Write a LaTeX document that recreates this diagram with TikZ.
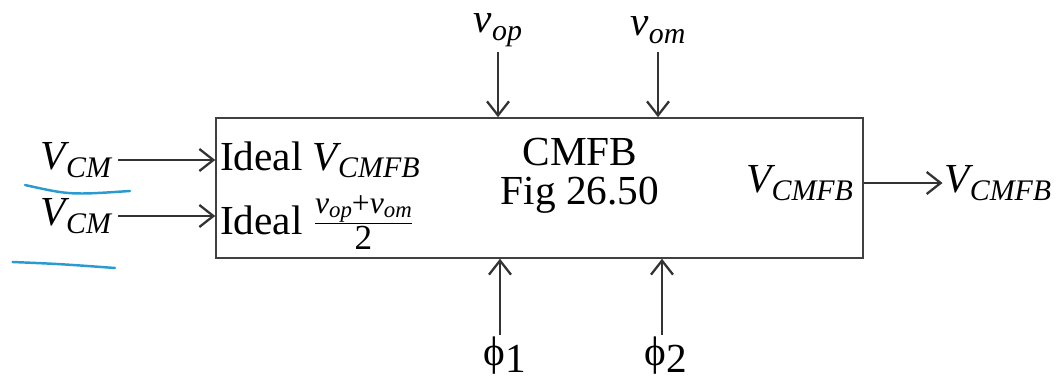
\documentclass[tikz,border=0pt]{standalone}
\usepackage{amsmath}
\usepackage{fontspec}
\setmainfont{Liberation Serif}
\usepackage{tikz}
\usetikzlibrary{arrows.meta, positioning, calc}
\definecolor{PenBlue}{HTML}{2A9BD0}

% italic signal name with a lowered italic subscript
\newcommand{\sig}[2]{{\itshape #1}\raisebox{-0.4ex}{\fontsize{17}{18}\selectfont\itshape #2}}
\newcommand{\ssig}[2]{{\itshape #1}\raisebox{-0.25ex}{\fontsize{13}{14}\selectfont\itshape #2}}

\begin{document}
\begin{tikzpicture}[
  font=\fontsize{23.5}{26}\selectfont,
  block/.style={rectangle, draw=black!75, line width=0.9pt, minimum width=12.94cm, minimum height=2.8cm},
  txt/.style={inner sep=1pt},
  arrow/.style={-{Straight Barb[length=2.8mm, width=4.4mm, line width=1.3pt]}, line width=0.8pt, black!80},
  penline/.style={PenBlue, line width=1.4pt, line cap=round}
]
  \useasboundingbox (0,0) rectangle (21.26,7.62);

  % CMFB block
  \node[txt, align=center] (title) at (11.6,4.1) {CMFB\\[-4pt]Fig 26.50};
  \node[block] (cmfb) at (10.79,3.86) {};

  % left inputs
  \node[txt, anchor=west] (ideal1) at (4.36,4.42) {Ideal \sig{V}{CMFB}};
  \node[txt, anchor=base west] (ideal2) at (4.36,2.93) {Ideal $\genfrac{}{}{0.6pt}{1}{\text{\fontsize{18}{19}\selectfont\ssig{v}{op}+\ssig{v}{om}}}{\text{\fontsize{20}{21}\selectfont 2}}$};
  \node[txt] (vcm1) at (1.52,4.42) {\sig{V}{CM}};
  \node[txt] (vcm2) at (1.52,3.3) {\sig{V}{CM}};
  \draw[arrow] (vcm1.east) ++(0.1,0) coordinate (in1) -- (in1 -| cmfb.west);
  \draw[arrow] (vcm2.east) ++(0.1,0) coordinate (in2) -- (in2 -| cmfb.west);

  % pen marks under the inputs
  \draw[penline] (0.5,3.92) .. controls (1.4,3.72) .. (2.6,3.8);
  \draw[penline] (0.25,2.38) .. controls (1.2,2.34) .. (2.3,2.26);

  % top inputs
  \node[txt] (vop) at (9.96,7.02) {\sig{v}{op}};
  \node[txt] (vom) at (13.16,7.02) {\sig{v}{om}};
  \coordinate (top1) at (9.96,6.58);
  \coordinate (top2) at (13.16,6.58);
  \draw[arrow] (top1) -- (top1 |- cmfb.north);
  \draw[arrow] (top2) -- (top2 |- cmfb.north);

  % clock phases
  \node[txt] (ph1) at (10.1,0.5) {ϕ\raisebox{-0.35ex}{1}};
  \node[txt] (ph2) at (13.32,0.5) {ϕ\raisebox{-0.35ex}{2}};
  \coordinate (bot1) at (10.0,0.92);
  \coordinate (bot2) at (13.24,0.92);
  \draw[arrow] (bot1) -- (bot1 |- cmfb.south);
  \draw[arrow] (bot2) -- (bot2 |- cmfb.south);

  % output
  \node[txt, anchor=east] (vint) at (17.1,3.96) {\sig{V}{CMFB}};
  \node[txt, anchor=west] (vout) at (18.85,3.96) {\sig{V}{CMFB}};
  \draw[arrow] (cmfb.east |- vout) -- (vout.west);
\end{tikzpicture}
\end{document}
